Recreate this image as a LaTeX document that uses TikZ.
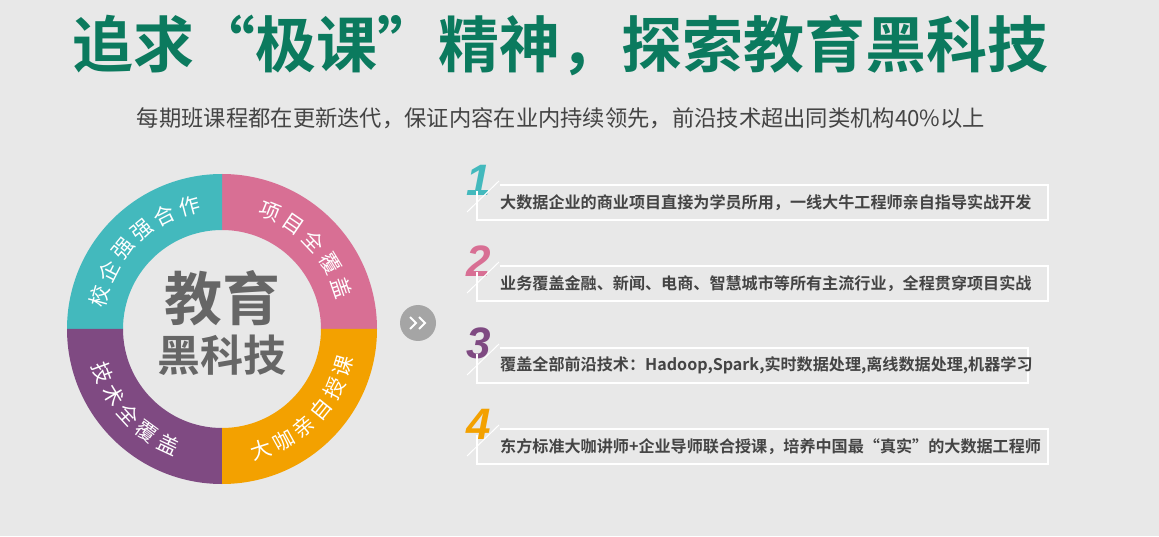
\documentclass[tikz,border=0pt]{standalone}
\usepackage{fontspec}
\setmainfont{Liberation Sans}
\newfontfamily\cjk{Noto Sans CJK SC}
\newfontfamily\cjkb{Noto Sans CJK SC Bold}
\definecolor{bg}{HTML}{E8E8E8}
\definecolor{teal}{HTML}{43B9BD}
\definecolor{pinkc}{HTML}{D86F94}
\definecolor{orangec}{HTML}{F3A100}
\definecolor{purplec}{HTML}{7F4A82}
\definecolor{titleg}{HTML}{0B7A5E}
\definecolor{txt}{HTML}{444444}
\tikzset{
 ringch/.style={text=white,font=\cjk\fontsize{21}{21}\selectfont,inner sep=0pt},
 item/.style={anchor=west,text=txt,font=\cjkb\fontsize{16.1}{16}\selectfont,inner sep=0pt},
 num/.style={font=\bfseries\itshape\fontsize{44}{44}\selectfont,inner sep=0pt},
 boxl/.style={draw=white,line width=1.2pt}
}
\begin{document}
\begin{tikzpicture}[x=1pt,y=1pt]
\fill[bg] (0,0) rectangle (1159,536);
\useasboundingbox (0,0) rectangle (1159,536);
\node[text=titleg,font=\cjkb\fontsize{61}{61}\selectfont] (title) at (560,491) {追求“极课”精神，探索教育黑科技};
\node[text=txt,font=\cjk\fontsize{22.3}{23}\selectfont] (sub) at (561,418) {每期班课程都在更新迭代，保证内容在业内持续领先，前沿技术超出同类机构40\%以上};
\begin{scope}[shift={(222,207)}]
 \foreach \a/\b/\c in {0/90/pinkc,90/180/teal,180/270/purplec,270/360/orangec}
  \fill[\c] (\a:155) arc[start angle=\a,end angle=\b,radius=155] -- (\b:99) arc[start angle=\b,end angle=\a,radius=99] -- cycle;
 \foreach \ch/\a in {校/165,企/153,强/141,强/129,合/117,作/105}
  \node[ringch,rotate=\a-90] (t\a) at (\a:127) {\ch};
 \foreach \ch/\a in {项/68,目/55.7,全/43.5,覆/31.2,盖/19}
  \node[ringch,rotate=\a-90] (p\a) at (\a:127) {\ch};
 \foreach \ch/\a in {大/288,咖/299,亲/310,自/321,授/332,课/343}
  \node[ringch,rotate=\a+90] (o\a) at (\a:127) {\ch};
 \foreach \ch/\a in {技/200,术/211.25,全/222.5,覆/233.75,盖/245}
  \node[ringch,rotate=\a+90] (u\a) at (\a:127) {\ch};
 \node[text=black!60,font=\cjkb\fontsize{58}{58}\selectfont] (c1) at (0,31) {教育};
 \node[text=black!60,font=\cjkb\fontsize{43}{43}\selectfont] (c2) at (0,-26) {黑科技};
\end{scope}
\node[circle,fill=black!25!bg!80!gray,minimum size=36pt,inner sep=0pt] (arr) at (418,213) {};
\draw[white,line width=2pt] (410,219)--(416,213)--(410,207) (419,219)--(425,213)--(419,207);
\foreach \i/\T/\R/\col/\txtc in {
 1/185/1048/teal/{大数据企业的商业项目直接为学员所用，一线大牛工程师亲自指导实战开发},
 2/266/1048/pinkc/{业务覆盖金融、新闻、电商、智慧城市等所有主流行业，全程贯穿项目实战},
 3/348/1028/purplec/{覆盖全部前沿技术：Hadoop,Spark,实时数据处理,离线数据处理,机器学习},
 4/429/1048/orangec/{东方标准大咖讲师+企业导师联合授课，培养中国最“真实”的大数据工程师}}{
 \pgfmathsetmacro\yt{536-\T}
 \pgfmathsetmacro\yb{536-\T-35}
 \node[num,text=\col] (n\i) at (479,\yt+5) {\i};
 \draw[boxl] (500,\yt) -- (\R,\yt) -- (\R,\yb) -- (477,\yb) -- (477,\yt-6);
 \draw[white,line width=1pt] (467,\yt-27) -- (499,\yt+4);
 \node[item] (it\i) at (500,\yt-17.5) {\txtc};
}
\end{tikzpicture}
\end{document}
